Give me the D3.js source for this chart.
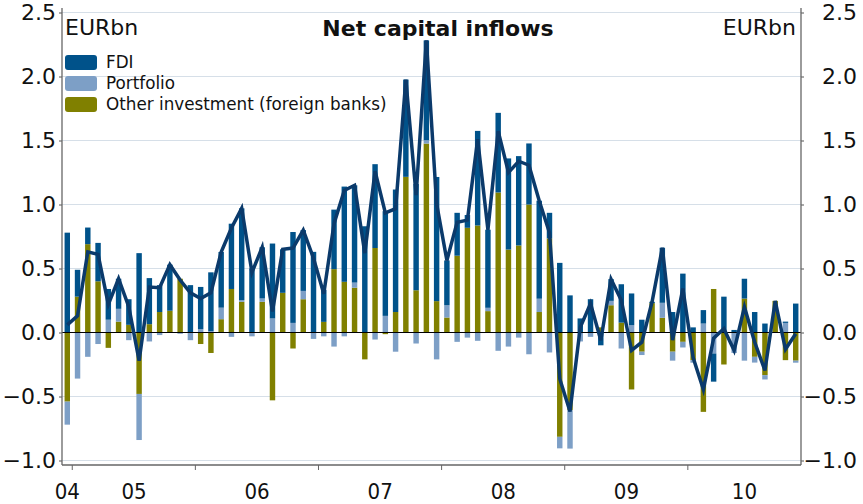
<!DOCTYPE html>
<html>
<head>
<meta charset="utf-8">
<script src="https://cdn.jsdelivr.net/npm/d3@7"></script>
<style>
  body { margin: 0; background: #fff; }
  svg { display: block; font-family: "DejaVu Sans", Verdana, sans-serif; }
</style>
</head>
<body>
<svg width="863" height="504"></svg>
<script>
// monthly data, Dec 2004 .. Nov 2010 (EUR bn)
const fdi = [
  0.78, 0.21, 0.13, 0.30, 0.24, 0.235, 0.20, 0.62, 0.36, 0.21, 0.36, 0.00,
  0.37, 0.33, 0.46, 0.435, 0.51, 0.717, 0.50, 0.40, 0.585, 0.34, 0.71, 0.475,
  0.63, 0.25, 0.465, 0.744, 0.76, 0.83, 0.655, 0.818, 0.957, 0.76, 0.83, 0.78,
  0.97, 0.35, 0.335, 0.10, 0.739, 0.61, 0.622, 0.712, 0.698, 0.477, 0.766, 0.20,
  0.544, 0.29, 0.11, 0.26, -0.10, 0.17, 0.30, 0.248, 0.10, 0.01, 0.43, 0.16,
  0.46, 0.04, 0.105, -0.22, 0.28, 0.02, 0.155, 0.16, 0.07, 0.00, 0.01, 0.226
];
const portfolio = [
  -0.18, -0.36, -0.19, -0.09, 0.10, 0.10, -0.06, -0.36, -0.07, -0.02, 0.00, -0.01,
  -0.06, 0.026, 0.01, 0.09, -0.034, 0.013, -0.03, 0.026, 0.11, 0.00, 0.075, 0.065,
  -0.05, -0.03, -0.11, -0.03, 0.04, 0.00, -0.055, 0.13, -0.15, 0.00, -0.086, 0.026,
  -0.21, 0.096, -0.073, -0.04, -0.065, 0.026, -0.143, -0.11, -0.04, -0.17, 0.104, -0.156,
  -0.09, -0.30, -0.07, -0.034, 0.00, 0.034, -0.125, 0.057, -0.026, 0.00, 0.117, -0.07,
  -0.044, -0.02, 0.07, -0.164, 0.00, -0.16, -0.22, -0.045, -0.034, 0.00, 0.075, -0.016
];
const other = [
  -0.54, 0.28, 0.69, 0.40, -0.12, 0.085, 0.06, -0.48, 0.065, 0.16, 0.17, 0.42,
  0.00, -0.09, -0.16, 0.104, 0.34, 0.24, 0.00, 0.24, -0.53, 0.31, -0.125, 0.26,
  0.00, 0.083, 0.495, 0.396, 0.35, -0.21, 0.66, -0.013, 0.16, 1.216, 0.33, 1.476,
  0.245, 0.117, 0.60, 0.818, 0.836, 0.167, 1.094, 0.648, 0.68, 1.00, 0.16, 0.735,
  -0.815, -0.607, 0.00, 0.00, 0.04, 0.213, 0.077, -0.445, -0.15, 0.23, 0.115, -0.15,
  -0.073, -0.216, -0.62, 0.34, -0.25, 0.00, 0.265, -0.19, -0.333, 0.247, -0.216, -0.22
];
const yearLabels = ["04", "05", "06", "07", "08", "09", "10"];
const yTicks = [-1.0, -0.5, 0.0, 0.5, 1.0, 1.5, 2.0, 2.5];
const legendNames = ["FDI", "Portfolio", "Other investment (foreign banks)"];

const colors = { fdi: "#00528a", portfolio: "#7d9fc6", other: "#808000" };
const lineColor = "#0b3a6b";

const svg = d3.select("svg");
const plotLeft = 62, plotRight = 801, plotTop = 12.5, plotBottom = 460.5;
const axisY = 465;

// build month rows
const rows = fdi.map((v, i) => {
  const m = (11 + i) % 12;
  const year = 2004 + Math.floor((11 + i) / 12);
  return { i: i, year: year, month: m, fdi: v, portfolio: portfolio[i], other: other[i],
           total: v + portfolio[i] + other[i] };
});

const x = d3.scaleBand()
  .domain(rows.map(d => d.i))
  .range([plotLeft, plotRight])
  .paddingInner(0.47)
  .paddingOuter(0.25);

const y = d3.scaleLinear().domain([-1, 2.5]).range([plotBottom, plotTop]);

// grid
svg.append("g")
  .selectAll("line")
  .data(yTicks.filter(t => t !== 0))
  .join("line")
  .attr("x1", plotLeft).attr("x2", plotRight)
  .attr("y1", d => y(d)).attr("y2", d => y(d))
  .attr("stroke", "#d6dfe8")
  .attr("stroke-width", 1.2);

// stacked bars
const stack = d3.stack()
  .keys(["other", "portfolio", "fdi"])
  .offset(d3.stackOffsetDiverging);
const series = stack(rows);

svg.append("g")
  .selectAll("g")
  .data(series)
  .join("g")
  .attr("fill", s => colors[s.key])
  .selectAll("rect")
  .data(s => s)
  .join("rect")
  .attr("x", d => x(d.data.i))
  .attr("width", x.bandwidth())
  .attr("y", d => y(Math.max(d[0], d[1])))
  .attr("height", d => Math.abs(y(d[0]) - y(d[1])));

// zero line
svg.append("line")
  .attr("x1", plotLeft).attr("x2", plotRight)
  .attr("y1", y(0)).attr("y2", y(0))
  .attr("stroke", "#000").attr("stroke-width", 1);

// legend
const lg = svg.append("g");
legendNames.forEach((name, k) => {
  const key = ["fdi", "portfolio", "other"][k];
  lg.append("rect")
    .attr("x", 65).attr("y", 55 + k * 21)
    .attr("width", 32).attr("height", 15)
    .attr("rx", 3)
    .attr("fill", colors[key]);
  lg.append("text")
    .attr("x", 106).attr("y", 68 + k * 21)
    .attr("font-size", 16.8)
    .attr("fill", "#111")
    .text(name);
});

// total line
const line = d3.line()
  .x(d => x(d.i) + x.bandwidth() / 2)
  .y(d => y(d.total));

svg.append("path")
  .attr("d", line(rows))
  .attr("fill", "none")
  .attr("stroke", lineColor)
  .attr("stroke-width", 3.5)
  .attr("stroke-linejoin", "miter");

// axes
const yAxisL = d3.axisLeft(y).tickValues(yTicks).tickSize(3).tickFormat(d3.format(".1f"));
const yAxisR = d3.axisRight(y).tickValues(yTicks).tickSize(3).tickFormat(d3.format(".1f"));

const gl = svg.append("g").attr("transform", `translate(${plotLeft},0)`).call(yAxisL);
const gr = svg.append("g").attr("transform", `translate(${plotRight},0)`).call(yAxisR);
[gl, gr].forEach(g => {
  g.select(".domain").remove();
  g.selectAll("line").attr("stroke", "#555");
  g.selectAll("text")
    .attr("font-size", 22)
    .attr("font-family", "DejaVu Sans, sans-serif")
    .attr("fill", "#111");
});
gl.selectAll("text").attr("x", -6);
gr.selectAll("text").attr("x", 56).attr("text-anchor", "end");

svg.append("line").attr("x1", plotLeft).attr("x2", plotLeft).attr("y1", 8).attr("y2", axisY)
  .attr("stroke", "#666").attr("stroke-width", 1.3);
svg.append("line").attr("x1", plotRight).attr("x2", plotRight).attr("y1", 8).attr("y2", axisY)
  .attr("stroke", "#666").attr("stroke-width", 1.3);
svg.append("line").attr("x1", plotLeft).attr("x2", plotRight).attr("y1", axisY).attr("y2", axisY)
  .attr("stroke", "#666").attr("stroke-width", 1.3);

// year ticks and labels
const years = d3.groups(rows, d => d.year);
svg.append("g")
  .selectAll("line")
  .data(years.slice(1))
  .join("line")
  .attr("x1", d => x(d[1][0].i) - x.step() * 0.25)
  .attr("x2", d => x(d[1][0].i) - x.step() * 0.25)
  .attr("y1", axisY).attr("y2", axisY + 5)
  .attr("stroke", "#666");

svg.append("g")
  .selectAll("text")
  .data(years)
  .join("text")
  .attr("x", d => d3.mean(d[1], r => x(r.i) + x.bandwidth() / 2))
  .attr("y", 499)
  .attr("text-anchor", "middle")
  .attr("font-size", 22)
  .attr("font-family", "DejaVu Sans Condensed, DejaVu Sans, sans-serif")
  .attr("fill", "#111")
  .text((d, k) => yearLabels[k]);

// unit labels and title
svg.append("text").attr("x", 65).attr("y", 35).attr("font-size", 22).attr("fill", "#111").text("EURbn");
svg.append("text").attr("x", 796).attr("y", 35).attr("font-size", 22).attr("fill", "#111")
  .attr("text-anchor", "end").text("EURbn");
svg.append("text").attr("x", 438).attr("y", 36).attr("font-size", 22).attr("font-weight", "bold")
  .attr("text-anchor", "middle").attr("fill", "#111").text("Net capital inflows");
</script>
</body>
</html>
